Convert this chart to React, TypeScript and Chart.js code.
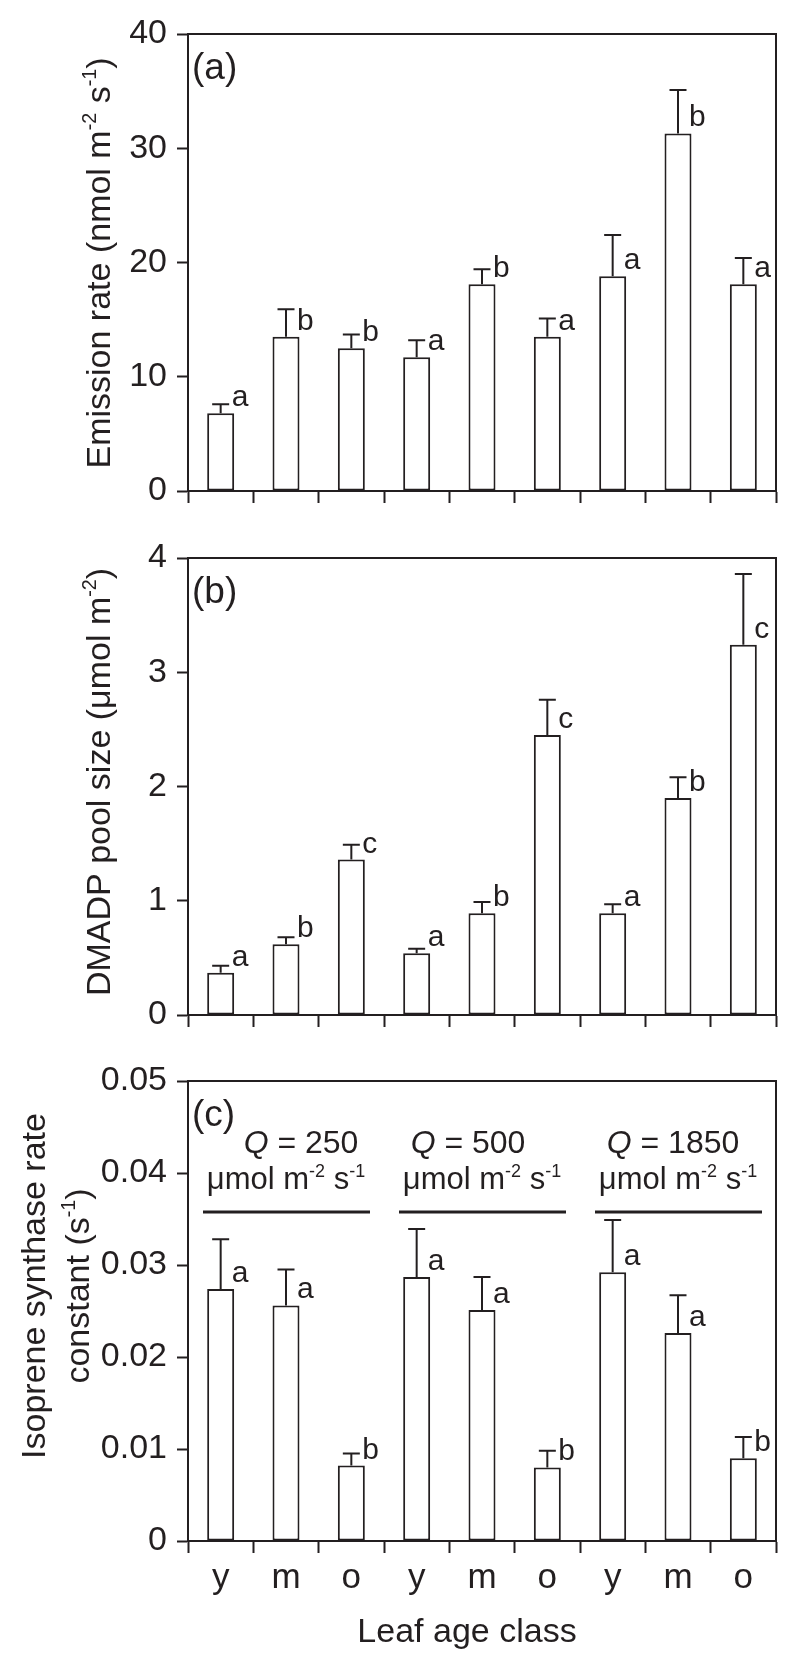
import React, { useEffect, useRef } from 'react';
import { Chart, registerables } from 'chart.js';

Chart.register(...registerables);

// ---------- data ----------
const categories = ['y', 'm', 'o', 'y', 'm', 'o', 'y', 'm', 'o'];

const emissionRate = [6.8, 13.5, 12.5, 11.7, 18.1, 13.5, 18.8, 31.3, 18.1];
const emissionErr = [0.8, 2.4, 1.2, 1.5, 1.3, 1.6, 3.6, 3.8, 2.3];
const emissionLetters = ['a', 'b', 'b', 'a', 'b', 'a', 'a', 'b', 'a'];

const dmadpPool = [0.37, 0.62, 1.36, 0.54, 0.89, 2.45, 0.89, 1.9, 3.24];
const dmadpErr = [0.06, 0.06, 0.13, 0.04, 0.1, 0.31, 0.08, 0.18, 0.62];
const dmadpLetters = ['a', 'b', 'c', 'a', 'b', 'c', 'a', 'b', 'c'];

const rateConstant = [0.0274, 0.0256, 0.0082, 0.0287, 0.0251, 0.008, 0.0292, 0.0226, 0.009];
const rateConstantErr = [0.0054, 0.0039, 0.0013, 0.0052, 0.0036, 0.0018, 0.0057, 0.0041, 0.0023];
const rateConstantLetters = ['a', 'a', 'b', 'a', 'a', 'b', 'a', 'a', 'b'];

const lightLevels = ['250', '500', '1850'];

// ---------- styling ----------
const INK = '#231f20';
const FAMILY = '"Liberation Sans", Arial, Helvetica, sans-serif';

type Run = { t: string; sup?: boolean; italic?: boolean };

function runFont(size: number, r: Run) {
  const s = r.sup ? size * 0.58 : size;
  return `${r.italic ? 'italic ' : ''}${s}px ${FAMILY}`;
}

function measureRuns(ctx: CanvasRenderingContext2D, runs: Run[], size: number) {
  let w = 0;
  for (const r of runs) {
    ctx.font = runFont(size, r);
    w += ctx.measureText(r.t).width;
  }
  return w;
}

function drawRuns(
  ctx: CanvasRenderingContext2D,
  runs: Run[],
  x: number,
  y: number,
  size: number,
  align: 'left' | 'center' = 'left'
) {
  const w = measureRuns(ctx, runs, size);
  let cx = align === 'center' ? x - w / 2 : x;
  ctx.textAlign = 'left';
  ctx.textBaseline = 'alphabetic';
  ctx.fillStyle = INK;
  for (const r of runs) {
    ctx.font = runFont(size, r);
    ctx.fillText(r.t, cx, r.sup ? y - size * 0.4 : y);
    cx += ctx.measureText(r.t).width;
  }
}

type PanelCfg = {
  canvasTop: number;
  canvasHeight: number;
  padTop: number;
  xHeight: number;
  values: number[];
  errs: number[];
  letters: string[];
  yMax: number;
  yStep: number;
  label: string;
  titleLines: Run[][];
  titleBaselines: number[];
  titleCenterY: number;
  tickFmt?: (v: number) => string;
  bottomPanel?: boolean;
};

const panels: PanelCfg[] = [
  {
    canvasTop: 0,
    canvasHeight: 525,
    padTop: 34,
    xHeight: 34,
    values: emissionRate,
    errs: emissionErr,
    letters: emissionLetters,
    yMax: 40,
    yStep: 10,
    label: '(a)',
    titleLines: [[
      { t: 'Emission rate (nmol m' },
      { t: '-2', sup: true },
      { t: ' s' },
      { t: '-1', sup: true },
      { t: ')' },
    ]],
    titleBaselines: [110],
    titleCenterY: 263,
  },
  {
    canvasTop: 525,
    canvasHeight: 525,
    padTop: 33,
    xHeight: 35,
    values: dmadpPool,
    errs: dmadpErr,
    letters: dmadpLetters,
    yMax: 4,
    yStep: 1,
    label: '(b)',
    titleLines: [[
      { t: 'DMADP pool size (\u03bcmol m' },
      { t: '-2', sup: true },
      { t: ')' },
    ]],
    titleBaselines: [110],
    titleCenterY: 257,
  },
  {
    canvasTop: 1050,
    canvasHeight: 619,
    padTop: 31,
    xHeight: 128,
    values: rateConstant,
    errs: rateConstantErr,
    letters: rateConstantLetters,
    yMax: 0.05,
    yStep: 0.01,
    label: '(c)',
    titleLines: [
      [{ t: 'Isoprene synthase rate' }],
      [{ t: 'constant (s' }, { t: '-1', sup: true }, { t: ')' }],
    ],
    titleBaselines: [45, 89],
    titleCenterY: 236,
    tickFmt: (v: number) => (Math.abs(v) < 1e-9 ? '0' : Number(v).toFixed(2)),
    bottomPanel: true,
  },
];

function makeChart(canvas: HTMLCanvasElement, p: PanelCfg) {
  const annot = {
    id: 'annot' + p.label,
    afterDatasetsDraw(chart: any) {
      const ctx: CanvasRenderingContext2D = chart.ctx;
      const meta = chart.getDatasetMeta(0);
      const ys = chart.scales.y;
      ctx.save();
      ctx.strokeStyle = INK;
      ctx.lineWidth = 2;
      meta.data.forEach((bar: any, i: number) => {
        const x = bar.x;
        const yTop = ys.getPixelForValue(p.values[i]);
        const yErr = ys.getPixelForValue(p.values[i] + p.errs[i]);
        ctx.beginPath();
        ctx.moveTo(x, yTop);
        ctx.lineTo(x, yErr);
        ctx.moveTo(x - 8.5, yErr);
        ctx.lineTo(x + 8.5, yErr);
        ctx.stroke();
        ctx.fillStyle = INK;
        ctx.font = `30px ${FAMILY}`;
        ctx.textAlign = 'left';
        ctx.textBaseline = 'alphabetic';
        ctx.fillText(p.letters[i], x + 11, yTop - 7);
      });
      ctx.restore();
    },
    afterDraw(chart: any) {
      const ctx: CanvasRenderingContext2D = chart.ctx;
      const area = chart.chartArea;
      const xs = chart.scales.x;
      ctx.save();
      // frame (top and right)
      ctx.strokeStyle = INK;
      ctx.lineWidth = 2;
      ctx.beginPath();
      ctx.moveTo(area.left, area.top);
      ctx.lineTo(area.right, area.top);
      ctx.lineTo(area.right, area.bottom);
      ctx.stroke();

      // panel label
      drawRuns(ctx, [{ t: p.label }], area.left + 4, area.top + 45, 37);

      // y-axis title (rotated)
      p.titleLines.forEach((runs, k) => {
        ctx.save();
        ctx.translate(p.titleBaselines[k], p.titleCenterY);
        ctx.rotate(-Math.PI / 2);
        drawRuns(ctx, runs, 0, 0, 34, 'center');
        ctx.restore();
      });

      if (p.bottomPanel) {
        // category labels
        categories.forEach((c, i) => {
          const x = xs.getPixelForValue(i);
          drawRuns(ctx, [{ t: c }], x, 538, 35, 'center');
        });
        // x-axis title
        drawRuns(ctx, [{ t: 'Leaf age class' }], 467, 592, 34, 'center');

        // light-level group annotations
        const catW = (area.right - area.left) / categories.length;
        const qOffsets = [15, -14, -5];
        lightLevels.forEach((q, g) => {
          const gl = area.left + g * 3 * catW;
          const gr = gl + 3 * catW;
          const cx = (gl + gr) / 2;
          drawRuns(ctx, [{ t: 'Q', italic: true }, { t: ' = ' + q }], cx + qOffsets[g], area.top + 72, 32, 'center');
          drawRuns(
            ctx,
            [{ t: '\u03bcmol m' }, { t: '-2', sup: true }, { t: ' s' }, { t: '-1', sup: true }],
            cx,
            area.top + 108,
            31,
            'center'
          );
          ctx.strokeStyle = INK;
          ctx.lineWidth = 3;
          ctx.beginPath();
          ctx.moveTo(gl + 15, area.top + 131);
          ctx.lineTo(gr - 14, area.top + 131);
          ctx.stroke();
        });
      }
      ctx.restore();
    },
  };

  return new Chart(canvas, {
    type: 'bar',
    data: {
      labels: categories,
      datasets: [
        {
          data: p.values,
          backgroundColor: '#ffffff',
          borderColor: INK,
          borderWidth: 2,
          borderSkipped: false,
          barPercentage: 0.413,
          categoryPercentage: 1,
        } as any,
      ],
    },
    options: {
      responsive: false,
      animation: false,
      devicePixelRatio: 1,
      layout: { padding: { top: p.padTop, right: 24, left: 0, bottom: 0 } },
      plugins: {
        legend: { display: false },
        tooltip: { enabled: false },
        title: { display: false },
      },
      scales: {
        x: {
          type: 'category',
          offset: true,
          grid: {
            offset: true,
            drawOnChartArea: false,
            drawTicks: true,
            tickLength: 12,
            tickWidth: 2,
            tickColor: INK,
            color: INK,
          },
          border: { display: true, width: 2, color: INK },
          ticks: { display: false },
          afterFit: (s: any) => {
            s.height = p.xHeight;
          },
        },
        y: {
          min: 0,
          max: p.yMax,
          grid: {
            drawOnChartArea: false,
            drawTicks: true,
            tickLength: 11,
            tickWidth: 2,
            tickColor: INK,
            color: INK,
          },
          border: { display: true, width: 2, color: INK },
          ticks: {
            stepSize: p.yStep,
            padding: 10,
            color: INK,
            font: { family: FAMILY, size: 34 },
            callback: (v: any) => (p.tickFmt ? p.tickFmt(Number(v)) : String(v)),
          },
          afterFit: (s: any) => {
            s.width = 188;
          },
        },
      },
    } as any,
    plugins: [annot],
  });
}

export default function App() {
  const refs = [useRef<HTMLCanvasElement>(null), useRef<HTMLCanvasElement>(null), useRef<HTMLCanvasElement>(null)];

  useEffect(() => {
    const charts = panels.map((p, i) => makeChart(refs[i].current as HTMLCanvasElement, p));
    return () => charts.forEach((c) => c.destroy());
  }, []);

  return (
    <div style={{ position: 'absolute', left: 0, top: 0, width: 800, height: 1669, background: '#fff' }}>
      {panels.map((p, i) => (
        <canvas
          key={i}
          ref={refs[i]}
          width={800}
          height={p.canvasHeight}
          style={{ position: 'absolute', left: 0, top: p.canvasTop, width: 800, height: p.canvasHeight, display: 'block' }}
        />
      ))}
    </div>
  );
}
